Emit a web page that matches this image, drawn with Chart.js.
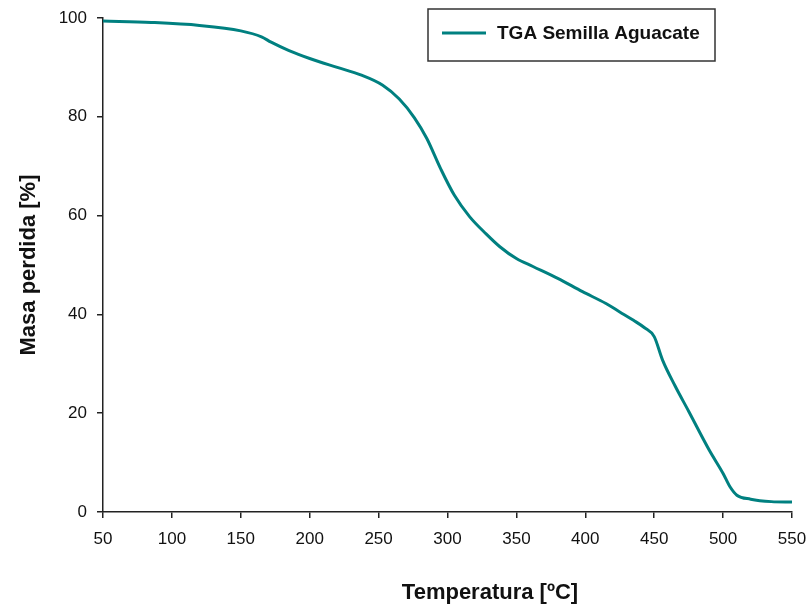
<!DOCTYPE html>
<html>
<head>
<meta charset="utf-8">
<script src="https://cdn.jsdelivr.net/npm/chart.js@4.4.1/dist/chart.umd.min.js"></script>
<style>
  html, body { margin: 0; padding: 0; background: #fff; }
  #wrap { width: 807px; height: 607px; }
</style>
</head>
<body>
<div id="wrap"><canvas id="tgaChart"></canvas></div>
<script>
// Data
const temps = [50, 85, 120, 150, 165, 172, 185, 200, 220, 237, 253, 265, 276, 285, 295, 305, 316, 328, 338, 350, 362, 380, 398, 415, 425, 435, 443, 450, 456, 465, 475, 490, 500, 505, 510, 520, 535, 550];
const masses = [99.4, 99.1, 98.5, 97.4, 96.2, 95.1, 93.4, 91.8, 90.0, 88.5, 86.4, 83.6, 79.8, 75.6, 69.5, 64.1, 59.8, 56.3, 53.7, 51.3, 49.7, 47.3, 44.6, 42.2, 40.5, 38.8, 37.3, 35.5, 30.8, 25.6, 20.4, 12.5, 7.8, 5.1, 3.4, 2.6, 2.1, 2.0];
const xTicks = [50, 100, 150, 200, 250, 300, 350, 400, 450, 500, 550];
const yTicks = [0, 20, 40, 60, 80, 100];
const seriesName = 'TGA Semilla Aguacate';
const xTitle = 'Temperatura [ºC]';
const yTitle = 'Masa perdida [%]';

const teal = '#008080';
const font = 'Arial, "Liberation Sans", sans-serif';

// legend box at the top right and the x title, placed as in the original
const extras = {
  id: 'extras',
  afterDraw(chart) {
    const ctx = chart.ctx;
    ctx.save();
    ctx.strokeStyle = '#333';
    ctx.lineWidth = 1.5;
    ctx.fillStyle = '#fff';
    ctx.fillRect(428, 9, 287, 52);
    ctx.strokeRect(428, 9, 287, 52);
    ctx.strokeStyle = teal;
    ctx.lineWidth = 3;
    ctx.beginPath();
    ctx.moveTo(442, 33);
    ctx.lineTo(486, 33);
    ctx.stroke();
    ctx.fillStyle = '#111';
    ctx.font = 'bold 19px ' + font;
    ctx.textBaseline = 'middle';
    ctx.fillText(seriesName, 497, 34);

    ctx.font = 'bold 22px ' + font;
    ctx.textAlign = 'center';
    ctx.fillText(xTitle, 490, 593);
    ctx.restore();
  },
};

new Chart(document.getElementById('tgaChart'), {
  type: 'line',
  data: {
    datasets: [
      {
        label: seriesName,
        data: temps.map((t, i) => ({ x: t, y: masses[i] })),
        borderColor: teal,
        borderWidth: 3,
        pointRadius: 0,
        fill: false,
        cubicInterpolationMode: 'monotone',
      },
    ],
  },
  options: {
    responsive: true,
    maintainAspectRatio: false,
    animation: false,
    layout: { padding: { top: 18, right: 15, left: 0, bottom: 0 } },
    plugins: { legend: { display: false }, tooltip: { enabled: false } },
    scales: {
      x: {
        type: 'linear',
        min: 50,
        max: 550,
        afterBuildTicks: (s) => { s.ticks = xTicks.map((v) => ({ value: v })); },
        afterFit: (s) => { s.height = 95; s.paddingLeft = 0; s.paddingRight = 0; },
        grid: { display: true, drawOnChartArea: false, drawTicks: true, tickLength: 6, color: '#222', lineWidth: 1.5 },
        border: { display: true, color: '#222', width: 1.5 },
        ticks: { color: '#111', padding: 11, maxRotation: 0, font: { family: font, size: 17 } },
      },
      y: {
        min: 0,
        max: 100,
        afterBuildTicks: (s) => { s.ticks = yTicks.map((v) => ({ value: v })); },
        afterFit: (s) => { s.width = 103; s.paddingTop = 0; s.paddingBottom = 0; },
        grid: { display: true, drawOnChartArea: false, drawTicks: true, tickLength: 6, color: '#222', lineWidth: 1.5 },
        border: { display: true, color: '#222', width: 1.5 },
        ticks: { color: '#111', padding: 10, font: { family: font, size: 17 } },
        title: { display: true, text: yTitle, color: '#111', padding: { top: 16, bottom: 0 }, font: { family: font, size: 22, weight: 'bold' } },
      },
    },
  },
  plugins: [extras],
});
</script>
</body>
</html>
